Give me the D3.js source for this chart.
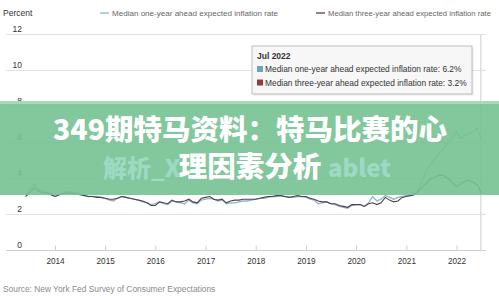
<!DOCTYPE html>
<html>
<head>
<meta charset="utf-8">
<script src="https://cdn.jsdelivr.net/npm/d3@7"></script>
<style>
  body { margin: 0; background: #fff; }
  svg { display: block; font-family: "Liberation Sans", Arial, sans-serif; }
</style>
</head>
<body>
<svg id="chart" width="499" height="296"></svg>
<script>
// first month of the survey, values run monthly from here
var startYear = 2013, startMonth = 5;

// Median one-year ahead expected inflation rate, Jun 2013 - Jul 2022
var oneYear = [
  3.1, 3.4, 3.7, 3.4, 3.3, 3.2, 3.2,
  3.0, 3.1, 3.2, 3.3, 3.25, 3.2, 3.15, 3.1, 3.0, 3.0, 3.0, 2.95,
  2.9, 2.8, 2.75, 2.9, 3.0, 2.95, 2.9, 2.85, 2.8, 2.7, 2.65, 2.55,
  2.6, 2.7, 2.6, 2.55, 2.75, 2.7, 2.65, 2.6, 2.8, 2.65, 2.6, 2.8,
  2.85, 2.9, 2.85, 2.75, 2.8, 2.6, 2.65, 2.65, 2.7, 2.75, 2.75, 2.8,
  2.85, 2.9, 2.9, 2.95, 3.0, 3.0, 3.05, 3.0, 2.95, 2.95, 3.0, 3.0,
  2.95, 2.85, 2.8, 2.6, 2.65, 2.7, 2.6, 2.55, 2.45, 2.4, 2.35, 2.5,
  2.55, 2.55, 2.45, 2.65, 3.0, 2.75, 2.85, 3.05, 2.95, 2.85, 2.95, 3.0,
  3.05, 3.1, 3.2, 3.4, 4.0, 4.5, 4.8, 5.2, 5.4, 5.7, 6.0, 6.3,
  6.6, 6.2, 6.4, 6.5, 6.6, 6.8, 6.2
];

// Median three-year ahead expected inflation rate, Jun 2013 - Jul 2022
var threeYear = [
  3.0, 3.2, 3.5, 3.3, 3.2, 3.2, 3.1,
  3.0, 3.1, 3.15, 3.2, 3.2, 3.15, 3.1, 3.05, 3.0, 3.0, 2.95, 2.95,
  2.9, 2.85, 2.85, 2.9, 3.0, 2.95, 2.9, 2.85, 2.8, 2.75, 2.65, 2.5,
  2.5, 2.7, 2.65, 2.6, 2.8, 2.7, 2.7, 2.75, 2.85, 2.7, 2.65, 2.9,
  2.95, 3.0, 2.85, 2.8, 2.85, 2.65, 2.75, 2.8, 2.8, 2.85, 2.85, 2.85,
  2.85, 2.9, 2.95, 3.0, 3.0, 3.05, 3.05, 3.0, 2.95, 3.0, 3.05, 3.0,
  3.0, 2.9, 2.85, 2.75, 2.7, 2.7, 2.6, 2.6, 2.5, 2.45, 2.4, 2.55,
  2.55, 2.55, 2.45, 2.6, 2.65, 2.55, 2.65, 2.95, 2.8, 2.7, 2.75, 2.95,
  3.0, 3.05, 3.1, 3.3, 3.55, 3.8, 4.0, 4.1, 4.2, 4.15, 4.0, 3.8,
  3.55, 3.7, 3.85, 3.9, 3.8, 3.65, 3.2
];

var yTicks = [0, 2, 4, 6, 8, 10, 12];
var xTickYears = [2014, 2015, 2016, 2017, 2018, 2019, 2020, 2021, 2022];

var seriesNames = ["Median one-year ahead expected inflation rate",
                   "Median three-year ahead expected inflation rate"];
var tooltipTitle = "Jul 2022";
var titleLines = ["349期特马资料：特马比赛的心", "理因素分析"];
var sourceText = "Source: New York Fed Survey of Consumer Expectations";

var blue = "#8db5cf", maroon = "#5a3d4b";

var svg = d3.select("#chart");

// scales
var x = d3.scaleTime()
  .domain([new Date(2014, 0, 1), new Date(2022, 0, 1)])
  .range([55, 456.5]);
var y = d3.scaleLinear().domain([0, 12]).range([250.5, 34.5]);

function monthDate(i) { return new Date(startYear, startMonth + i, 1); }

// gridlines
svg.append("g").selectAll("line")
  .data(yTicks)
  .enter().append("line")
  .attr("x1", 6).attr("x2", 486)
  .attr("y1", function (d) { return y(d); })
  .attr("y2", function (d) { return y(d); })
  .attr("stroke", function (d) { return d === 0 ? "#cfcfcf" : "#e2e2e2"; })
  .attr("stroke-width", 1);

// y labels sit above their gridlines
svg.append("g").selectAll("text")
  .data(yTicks)
  .enter().append("text")
  .attr("x", 22).attr("y", function (d) { return y(d) - 3; })
  .attr("text-anchor", "end")
  .attr("font-size", 8.5)
  .attr("fill", "#333")
  .text(function (d) { return d; });

// x axis ticks and labels
var xAxis = svg.append("g").attr("transform", "translate(0," + y(0) + ")")
  .call(d3.axisTop(x)
    .tickValues(xTickYears.map(function (yr) { return new Date(yr, 0, 1); }))
    .tickFormat(d3.timeFormat("%Y"))
    .tickSize(5));
xAxis.select(".domain").remove();
xAxis.selectAll(".tick line").attr("stroke", "#cfcfcf");
xAxis.selectAll(".tick text")
  .attr("y", 13.5)
  .attr("font-size", 8.2)
  .attr("font-family", "Liberation Sans, Arial, sans-serif")
  .attr("fill", "#333");

svg.append("text")
  .attr("x", 3).attr("y", 16)
  .attr("font-size", 8.5).attr("fill", "#333")
  .text("Percent");

// crosshair at the hovered month
var lastIndex = oneYear.length - 1;
svg.append("line")
  .attr("x1", x(monthDate(lastIndex)) - 0.5).attr("x2", x(monthDate(lastIndex)) - 0.5)
  .attr("y1", y(12)).attr("y2", y(0))
  .attr("stroke", "#cccccc");

// series lines
var line = d3.line()
  .x(function (d, i) { return x(monthDate(i)); })
  .y(function (d) { return y(d); });

svg.append("path").datum(oneYear)
  .attr("d", line).attr("fill", "none")
  .attr("stroke", blue).attr("stroke-width", 1.3);
svg.append("path").datum(threeYear)
  .attr("d", line).attr("fill", "none")
  .attr("stroke", maroon).attr("stroke-width", 1.1);

// legend across the top
var legend = svg.append("g").selectAll("g")
  .data(seriesNames)
  .enter().append("g")
  .attr("transform", function (d, i) { return "translate(" + (i === 0 ? 100 : 316) + ",13)"; });
legend.append("line")
  .attr("x1", 0).attr("x2", 9)
  .attr("stroke", function (d, i) { return i === 0 ? blue : maroon; })
  .attr("stroke-width", 1.3);
legend.append("text")
  .attr("x", 12).attr("y", 3)
  .attr("font-size", 7.8).attr("fill", "#666")
  .attr("textLength", function (d, i) { return i === 0 ? 166 : 163; })
  .attr("lengthAdjust", "spacingAndGlyphs")
  .text(function (d) { return d; });

// tooltip box
var tip = svg.append("g").attr("transform", "translate(252,46)");
tip.append("rect")
  .attr("x", 1.5).attr("y", 1.5).attr("width", 220).attr("height", 48)
  .attr("fill", "#000").attr("opacity", 0.08);
tip.append("rect")
  .attr("width", 220).attr("height", 48)
  .attr("fill", "#f7f7f7").attr("stroke", "#bdbdbd");
tip.append("text")
  .attr("x", 5).attr("y", 13)
  .attr("font-size", 8.5).attr("font-weight", "bold").attr("fill", "#333")
  .text(tooltipTitle);
var tipValues = [oneYear[lastIndex], threeYear[lastIndex]];
var tipRows = tip.selectAll(".row")
  .data(seriesNames)
  .enter().append("g")
  .attr("class", "row")
  .attr("transform", function (d, i) { return "translate(5," + (26 + i * 13.5) + ")"; });
tipRows.append("rect")
  .attr("x", 0).attr("y", -6).attr("width", 6).attr("height", 6)
  .attr("fill", function (d, i) { return i === 0 ? "#6fa3c6" : "#8c3d3d"; });
tipRows.append("text")
  .attr("x", 8).attr("y", 0)
  .attr("font-size", 8.4).attr("fill", "#333")
  .text(function (d, i) { return d + ": " + tipValues[i].toFixed(1) + "%"; });

// source note
svg.append("text")
  .attr("x", 3).attr("y", 292)
  .attr("font-size", 8.4).attr("fill", "#8a8a8a")
  .text(sourceText);

// green title banner laid over the chart
svg.append("rect")
  .attr("x", 0).attr("y", 101).attr("width", 499).attr("height", 94)
  .attr("fill", "#76c192").attr("opacity", 0.9);
svg.append("rect")
  .attr("x", 0).attr("y", 101).attr("width", 499).attr("height", 3)
  .attr("fill", "#a4dcc0").attr("opacity", 0.9);

var cjk = "'Noto Sans CJK SC', sans-serif";
svg.append("text")
  .attr("x", 103).attr("y", 177)
  .attr("font-family", cjk).attr("font-size", 24).attr("font-weight", 900)
  .attr("fill", "#a8e0d0").attr("opacity", 0.75)
  .text("解析_X");
svg.append("text")
  .attr("x", 328).attr("y", 177)
  .attr("font-family", cjk).attr("font-size", 24).attr("font-weight", 900)
  .attr("fill", "#a8e0d0").attr("opacity", 0.75)
  .text("ablet");

svg.append("g").selectAll("text")
  .data(titleLines)
  .enter().append("text")
  .attr("x", 250).attr("y", function (d, i) { return 140 + i * 37; })
  .attr("text-anchor", "middle")
  .attr("font-family", cjk).attr("font-size", 28.5).attr("font-weight", 900)
  .attr("fill", "#fff")
  .text(function (d) { return d; });
</script>
</body>
</html>
